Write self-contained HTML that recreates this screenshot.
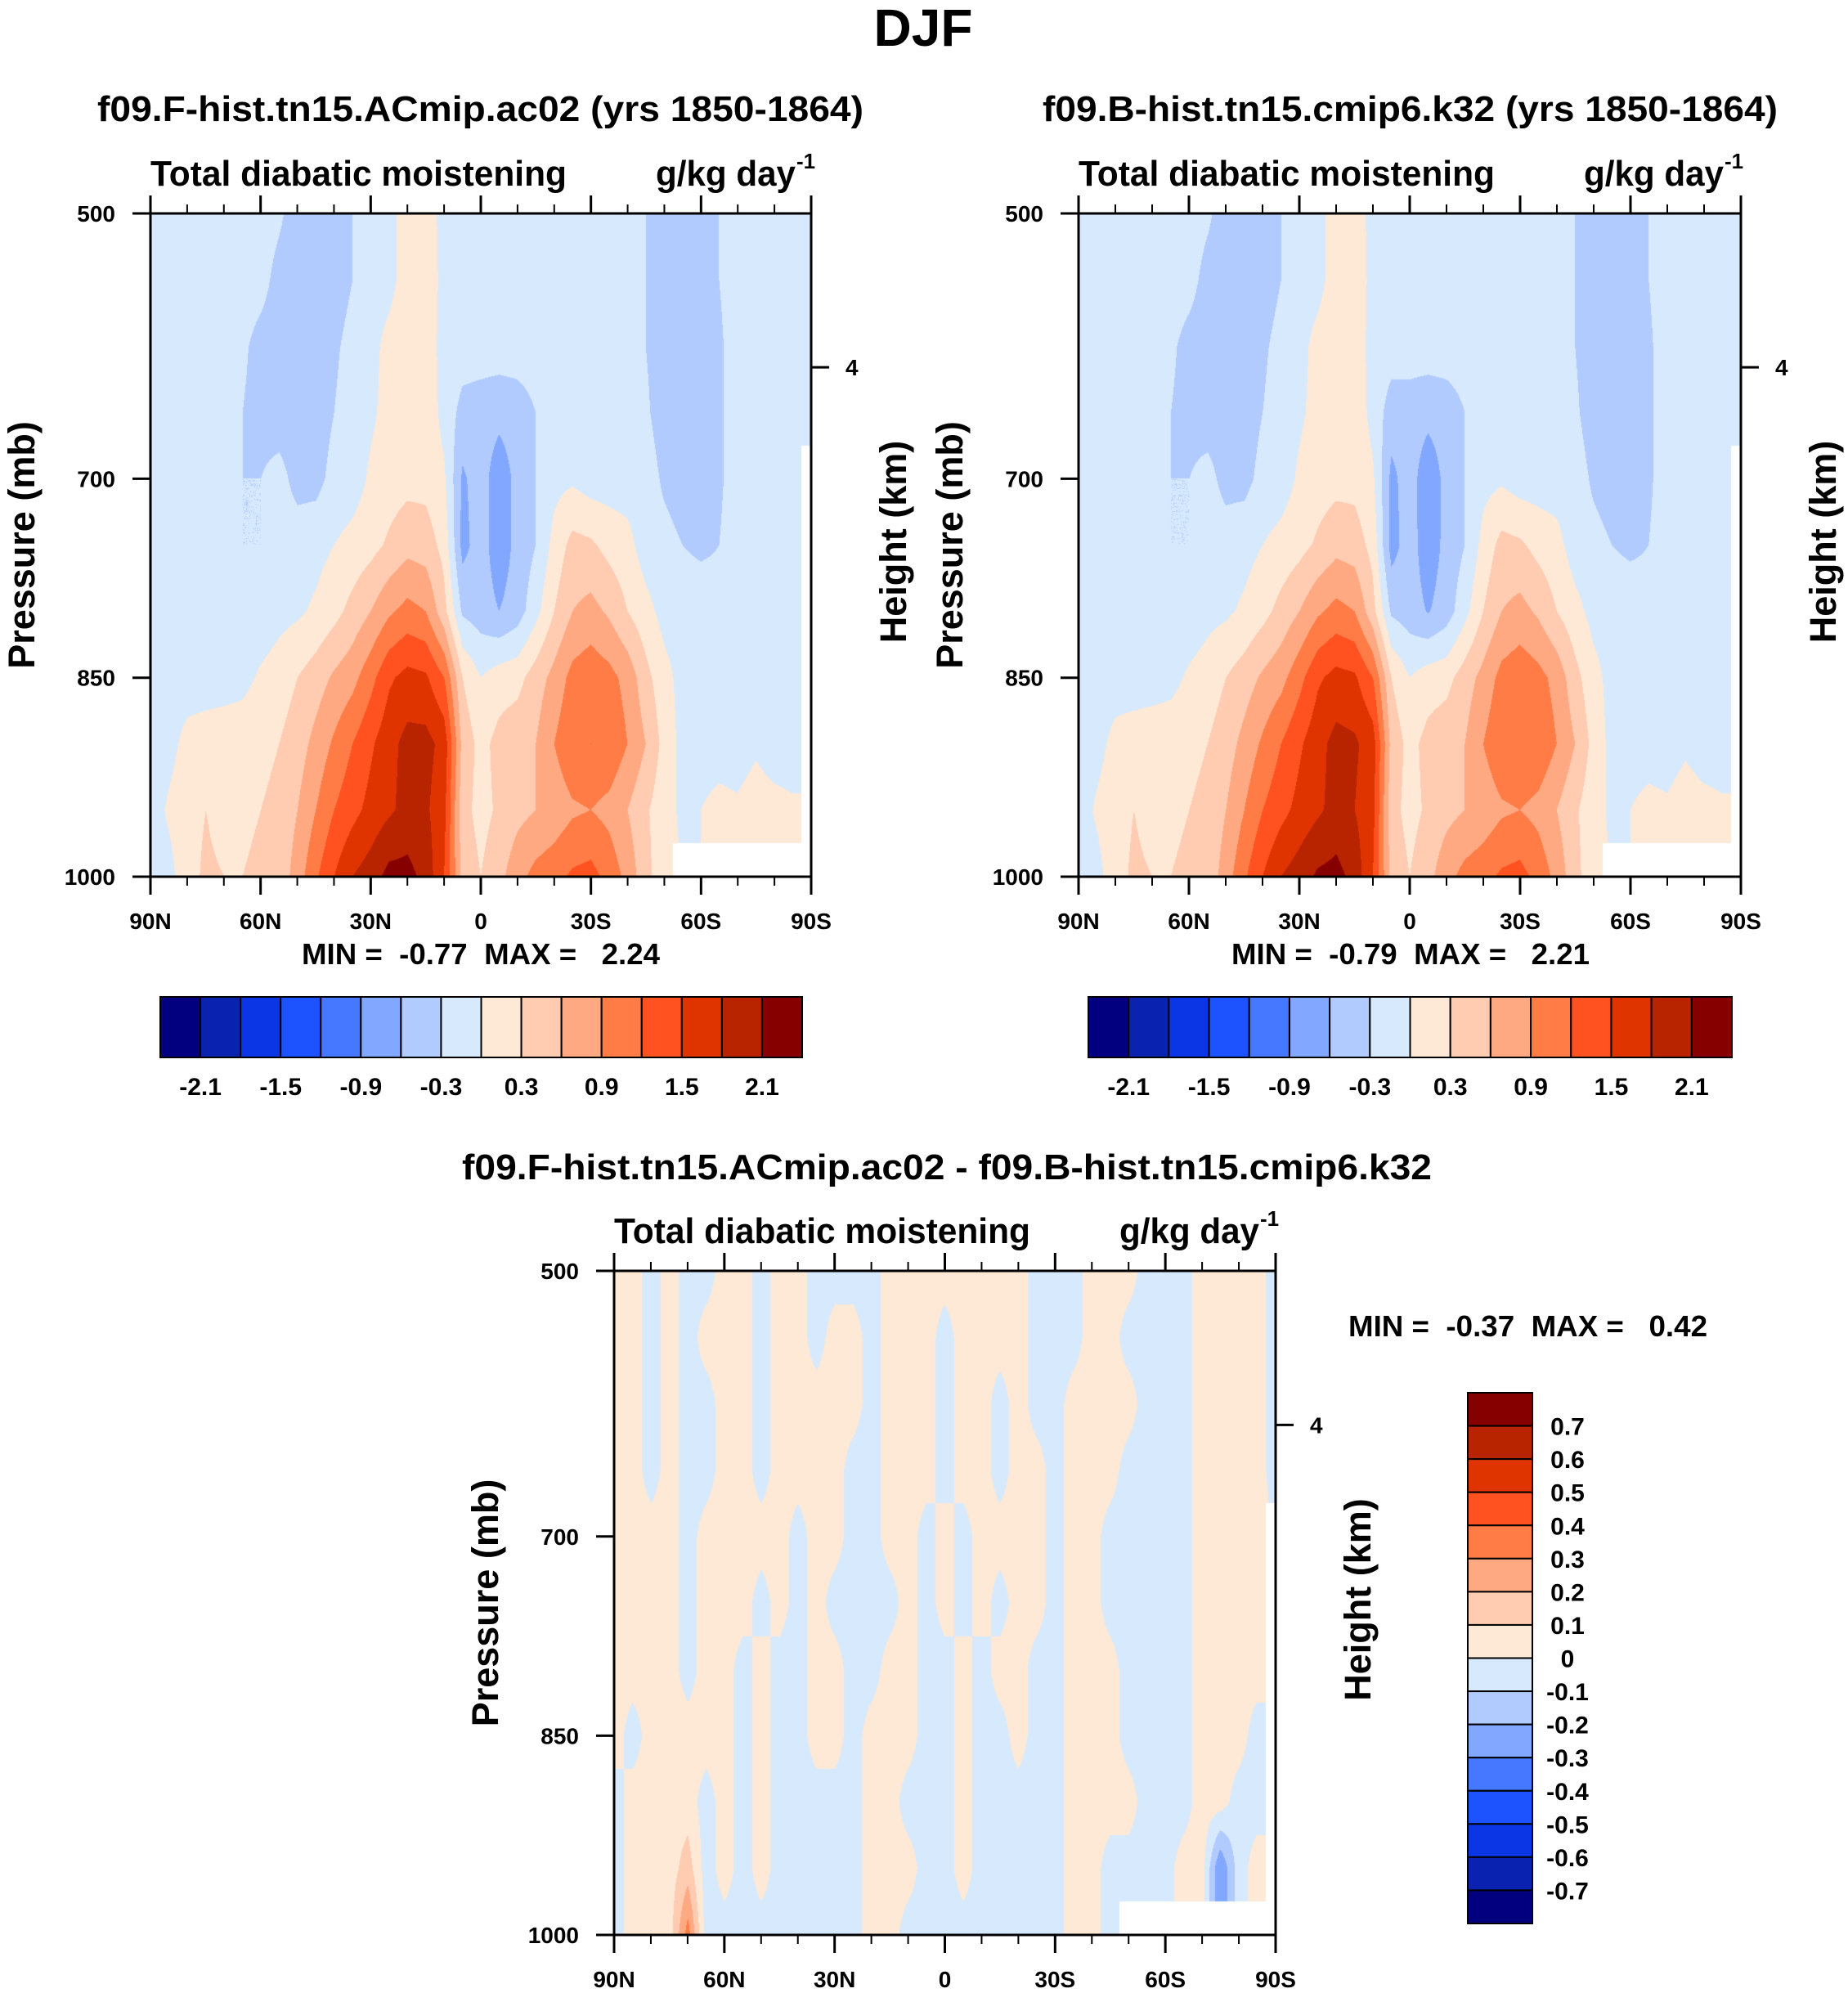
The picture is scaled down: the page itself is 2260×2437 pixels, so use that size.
<!DOCTYPE html>
<html><head><meta charset="utf-8"><style>
html,body{margin:0;padding:0;background:#fff;width:2260px;height:2437px;overflow:hidden}
canvas{position:absolute}
svg{position:absolute;left:0;top:0}
text{font-family:"Liberation Sans",Arial,sans-serif;font-weight:bold;fill:#000;white-space:pre}
</style></head><body>
<canvas id="c1" style="left:184px;top:261px" width="808" height="811"></canvas>
<canvas id="c2" style="left:1319px;top:261px" width="810" height="811"></canvas>
<canvas id="c3" style="left:751px;top:1554px" width="809" height="812"></canvas>
<svg id="ov" width="2260" height="2437">
<text x="1129" y="56" font-size="64" text-anchor="middle">DJF</text>
<text x="119" y="148" font-size="44" textLength="937" lengthAdjust="spacingAndGlyphs">f09.F-hist.tn15.ACmip.ac02 (yrs 1850-1864)</text>
<text x="1275" y="148" font-size="44" textLength="899" lengthAdjust="spacingAndGlyphs">f09.B-hist.tn15.cmip6.k32 (yrs 1850-1864)</text>
<text x="565" y="1442" font-size="44" textLength="1186" lengthAdjust="spacingAndGlyphs">f09.F-hist.tn15.ACmip.ac02 - f09.B-hist.tn15.cmip6.k32</text>
<text x="369" y="1179" font-size="36" textLength="438" lengthAdjust="spacingAndGlyphs" xml:space="preserve">MIN =  -0.77  MAX =   2.24</text>
<text x="1506" y="1179" font-size="36" textLength="438" lengthAdjust="spacingAndGlyphs" xml:space="preserve">MIN =  -0.79  MAX =   2.21</text>
<text x="1649" y="1634" font-size="36" textLength="439" lengthAdjust="spacingAndGlyphs" xml:space="preserve">MIN =  -0.37  MAX =   0.42</text>
</svg>
<script>
const lats = [90,85,80,75,70,65,60,55,50,45,40,35,30,25,20,15,10,5,0,-5,-10,-15,-20,-25,-30,-35,-40,-45,-50,-55,-60,-65,-70,-75,-80,-85,-90];
const pressures = [500,550,600,650,700,750,800,850,900,950,1000];
const xTickLats = [90,60,30,0,-30,-60,-90];
const xTickLabels = ['90N','60N','30N','0','30S','60S','90S'];
const xMinorLats = [80,70,50,40,20,10,-10,-20,-40,-50,-70,-80];
const pTicks = [500,700,850,1000];
const pTickLabels = ['500','700','850','1000'];
const heightTickP = [616];
const heightTickLabels = ['4'];
const levelsFull = [-2.1,-1.8,-1.5,-1.2,-0.9,-0.6,-0.3,0,0.3,0.6,0.9,1.2,1.5,1.8,2.1];
const levelsDiff = [-0.7,-0.6,-0.5,-0.4,-0.3,-0.2,-0.1,0,0.1,0.2,0.3,0.4,0.5,0.6,0.7];
const cbLabelsFull = ['-2.1','-1.5','-0.9','-0.3','0.3','0.9','1.5','2.1'];
const cbLabelsDiff = ['0.7','0.6','0.5','0.4','0.3','0.2','0.1','0','-0.1','-0.2','-0.3','-0.4','-0.5','-0.6','-0.7'];
const colors = ['#02007f','#0a22b0','#0a36e6','#1c52ff','#4578ff','#82a7ff','#b1cbfe','#d7e9fd','#fee9d6','#ffcbb1','#ffa983','#ff7c46','#ff5220','#e03400','#b82300','#870000'];
const N = NaN;
const p1 = [
[-.15,-.15,-.15,-.15,-.15,-.15,-.15,-.25,-.45,-.45,-.45,-.3,-.15,-.1,.15,.15,-.1,-.15,-.15,-.15,-.15,-.15,-.15,-.15,-.15,-.15,-.15,-.3,-.45,-.45,-.45,-.3,-.15,-.15,-.15,-.15,-.15],
[-.15,-.15,-.15,-.15,-.15,-.15,-.2,-.4,-.45,-.45,-.45,-.3,-.15,-.1,.15,.2,-.1,-.15,-.15,-.15,-.15,-.15,-.15,-.15,-.15,-.15,-.15,-.3,-.45,-.45,-.45,-.3,-.15,-.15,-.15,-.15,-.15],
[-.15,-.15,-.15,-.15,-.15,-.25,-.4,-.45,-.45,-.45,-.35,-.2,-.1,.1,.2,.15,-.1,-.15,-.15,-.15,-.15,-.15,-.15,-.15,-.15,-.15,-.15,-.3,-.45,-.45,-.45,-.35,-.15,-.15,-.15,-.15,-.15],
[-.15,-.15,-.15,-.15,-.15,-.3,-.4,-.45,-.45,-.45,-.3,-.15,-.05,.1,.2,.2,-.1,-.4,-.45,-.5,-.45,-.3,-.15,-.15,-.15,-.15,-.15,-.25,-.45,-.45,-.45,-.35,-.15,-.15,-.15,-.15,-.15],
[-.15,-.15,-.15,-.15,-.15,-.3,-.3,-.2,-.4,-.4,-.2,-.15,.05,.15,.2,.2,.05,-.65,-.45,-.8,-.5,-.3,-.1,-.05,-.15,-.15,-.15,-.15,-.35,-.45,-.45,-.35,-.15,-.15,-.15,-.15,N],
[-.15,-.15,-.15,-.15,-.15,-.3,-.3,-.15,-.15,-.1,0,.1,.2,.35,.5,.45,.2,-.7,-.45,-.8,-.5,-.3,.1,.4,.35,.2,.1,-.15,-.2,-.3,-.35,-.3,-.15,-.15,-.15,-.15,N],
[-.15,-.15,-.15,-.15,-.15,-.25,-.2,-.1,-.05,.05,.2,.4,.6,.85,1.0,.9,.4,-.35,-.45,-.6,-.45,-.1,.3,.6,.7,.55,.3,.1,-.1,-.15,-.15,-.2,-.15,-.15,-.15,-.15,N],
[-.15,-.15,-.15,-.15,-.15,-.1,.05,.15,.3,.45,.65,.8,1.1,1.45,1.6,1.55,1.2,.3,0,.15,.2,.45,.7,1.0,1.1,1.0,.8,.4,.1,-.1,-.15,-.15,-.15,-.15,-.15,-.15,N],
[-.15,-.1,.1,.15,.2,.2,.25,.3,.45,.7,.95,1.2,1.45,1.7,1.9,1.9,1.7,.5,.2,.4,.5,.6,.9,1.15,1.2,1.15,.9,.6,.2,-.1,-.15,-.15,-.15,-.05,-.15,-.15,N],
[-.15,.05,.2,.3,.2,.25,.3,.35,.6,.9,1.2,1.4,1.6,1.75,1.9,1.85,1.6,.4,.2,.35,.5,.6,.7,.85,.9,.8,.6,.35,.1,-.05,0,.1,.05,.15,.1,.05,N],
[-.15,-.1,.2,.35,.3,.3,.35,.4,.75,1.15,1.5,1.8,1.95,2.2,2.2,2.0,1.5,.5,.3,.5,.8,1.0,1.1,1.25,1.3,1.1,.8,.4,.1,N,N,N,N,N,N,N,N]
];
const p2 = [
[-.15,-.15,-.15,-.15,-.15,-.15,-.15,-.25,-.45,-.45,-.45,-.3,-.15,-.1,.15,.15,-.1,-.15,-.15,-.15,-.15,-.15,-.15,-.15,-.15,-.15,-.15,-.3,-.45,-.45,-.45,-.3,-.15,-.15,-.15,-.15,-.15],
[-.15,-.15,-.15,-.15,-.15,-.15,-.2,-.4,-.45,-.45,-.45,-.3,-.15,-.1,.15,.2,-.1,-.15,-.15,-.15,-.15,-.15,-.15,-.15,-.15,-.15,-.15,-.3,-.45,-.45,-.45,-.3,-.15,-.15,-.15,-.15,-.15],
[-.15,-.15,-.15,-.15,-.15,-.25,-.4,-.45,-.45,-.45,-.35,-.2,-.1,.1,.2,.15,-.1,-.15,-.15,-.15,-.15,-.15,-.15,-.15,-.15,-.15,-.15,-.3,-.45,-.45,-.45,-.35,-.15,-.15,-.15,-.15,-.15],
[-.15,-.15,-.15,-.15,-.15,-.3,-.4,-.45,-.45,-.45,-.3,-.15,-.05,.1,.2,.2,-.1,-.45,-.45,-.5,-.45,-.3,-.15,-.15,-.15,-.15,-.15,-.25,-.45,-.45,-.45,-.35,-.15,-.15,-.15,-.15,-.15],
[-.15,-.15,-.15,-.15,-.15,-.3,-.3,-.2,-.4,-.4,-.2,-.15,.05,.15,.2,.2,.05,-.68,-.45,-.82,-.5,-.3,-.1,-.05,-.15,-.15,-.15,-.15,-.35,-.45,-.45,-.35,-.15,-.15,-.15,-.15,N],
[-.15,-.15,-.15,-.15,-.15,-.3,-.3,-.15,-.15,-.1,0,.1,.2,.35,.5,.45,.2,-.72,-.45,-.8,-.5,-.3,.1,.4,.35,.2,.1,-.15,-.2,-.3,-.35,-.3,-.15,-.15,-.15,-.15,N],
[-.15,-.15,-.15,-.15,-.15,-.25,-.2,-.1,-.05,.05,.2,.4,.6,.85,1.0,.9,.4,-.35,-.45,-.62,-.45,-.1,.3,.6,.7,.55,.3,.1,-.1,-.15,-.15,-.2,-.15,-.15,-.15,-.15,N],
[-.15,-.15,-.15,-.15,-.15,-.1,.05,.15,.3,.45,.65,.8,1.1,1.45,1.6,1.55,1.2,.3,0,.15,.2,.45,.7,1.0,1.1,1.0,.8,.4,.1,-.1,-.15,-.15,-.15,-.15,-.15,-.15,N],
[-.15,-.1,.1,.15,.2,.2,.25,.3,.45,.7,.95,1.2,1.45,1.7,1.9,1.85,1.65,.5,.2,.4,.5,.6,.9,1.15,1.2,1.15,.9,.6,.2,-.1,-.15,-.15,-.15,-.05,-.15,-.15,N],
[-.15,.05,.2,.3,.2,.25,.3,.35,.6,.9,1.2,1.4,1.6,1.75,1.9,1.8,1.6,.4,.2,.35,.5,.6,.7,.85,.9,.8,.6,.35,.1,-.05,0,.1,.05,.15,.1,.05,N],
[-.15,-.1,.2,.35,.3,.3,.35,.4,.75,1.15,1.5,1.8,1.95,2.15,2.2,2.0,1.5,.5,.3,.5,.8,1.0,1.1,1.25,1.3,1.1,.8,.4,.1,N,N,N,N,N,N,N,N]
];
const o=.05, b=-.05;
const pd = [
[o,o,b,o,b,b,o,o,b,o, o,b,b,b,b,o,o,o,o,o, o,o,o,b,b,b,o,o,o,b, b,b,o,o,o,o,b],
[o,o,b,o,b,o,o,o,b,o, o,b,o,o,b,o,o,o,b,o, o,o,o,b,b,b,o,o,b,b, b,b,o,o,o,o,b],
[o,o,b,o,b,b,o,o,b,o, o,o,o,o,b,o,o,o,b,o, o,b,o,b,b,o,o,o,o,b, b,b,o,o,o,o,b],
[o,o,b,o,b,b,o,o,b,o, o,o,o,b,b,o,o,o,b,o, o,b,o,o,b,o,o,o,b,b, b,b,o,o,o,o,b],
[o,o,o,o,b,o,o,o,o,o, b,o,o,b,b,o,o,b,o,b, o,o,o,o,b,o,o,b,b,b, b,b,o,o,o,o,N],
[o,o,o,o,b,o,o,o,b,o, b,o,b,b,b,b,o,b,o,b, o,b,o,o,b,o,o,b,b,b, b,b,o,o,o,o,N],
[o,o,o,o,b,o,o,b,o,b, b,o,o,b,b,o,o,b,b,o, b,o,o,b,b,o,o,o,b,b, b,b,o,o,o,o,N],
[o,b,o,o,o,o,o,b,o,b, b,o,o,b,o,o,o,b,b,o, b,b,o,b,b,o,o,o,b,b, b,b,o,o,o,b,N],
[b,o,o,o,o,b,o,b,o,b, b,b,b,b,o,o,b,b,b,o, b,b,b,b,b,o,o,o,o,b, b,b,o,o,b,b,N],
[b,o,o,o,.15,b,o,b,o,b, b,b,b,b,o,o,o,b,b,o, b,b,b,b,b,o,o,b,b,b, b,o,o,-.3,b,o,N],
[b,o,o,o,.35,b,b,b,b,b, b,b,b,b,o,o,b,b,b,b, b,b,b,b,b,o,o,b,N,N, N,N,N,N,N,N,N]
];

function colorIndex(v, lv){let k=0;while(k<lv.length&&v>=lv[k])k++;return k;}
function hex(c){return [parseInt(c.slice(1,3),16),parseInt(c.slice(3,5),16),parseInt(c.slice(5,7),16)];}
const rgb = colors.map(hex);
function render(cv, grid, lv){
  const ctx=cv.getContext('2d');const W=cv.width,H=cv.height;
  const img=ctx.createImageData(W,H);const d=img.data;
  const nr=grid.length,nc=grid[0].length;
  for(let y=0;y<H;y++){
    const fy=y/(H-1)*(nr-1);const r0=Math.min(Math.floor(fy),nr-2);const ty=fy-r0;
    for(let x=0;x<W;x++){
      const fx=x/(W-1)*(nc-1);const c0=Math.min(Math.floor(fx),nc-2);const tx=fx-c0;
      const idx=(y*W+x)*4;
      const nv=grid[Math.round(fy)][Math.round(fx)];
      if(isNaN(nv)){d[idx]=255;d[idx+1]=255;d[idx+2]=255;d[idx+3]=255;continue;}
      const vs=[[grid[r0][c0],(1-tx)*(1-ty)],[grid[r0][c0+1],tx*(1-ty)],[grid[r0+1][c0],(1-tx)*ty],[grid[r0+1][c0+1],tx*ty]];
      let s=0,w=0;for(const [v,ww] of vs){if(!isNaN(v)){s+=v*ww;w+=ww;}}
      const val=w>0?s/w:nv;
      const c=rgb[colorIndex(val,lv)];
      d[idx]=c[0];d[idx+1]=c[1];d[idx+2]=c[2];d[idx+3]=255;
    }
  }
  ctx.putImageData(img,0,0);
}
render(document.getElementById('c1'),p1,levelsFull);
render(document.getElementById('c2'),p2,levelsFull);
render(document.getElementById('c3'),pd,levelsDiff);

const NS='http://www.w3.org/2000/svg';
const ov=document.getElementById('ov');
function el(tag,attrs,parent){const e=document.createElementNS(NS,tag);for(const k in attrs)e.setAttribute(k,attrs[k]);(parent||ov).appendChild(e);return e;}

function axes(x0,y0,w,h,pfx){
  const g=el('g',{});
  
  
  const xs=lat=>x0+(90-lat)/180*w;
  const ys=p=>y0+(p-500)/500*h;
  const fr=el('rect',{x:x0,y:y0,width:w,height:h,fill:'none',stroke:'#000','stroke-width':3},g);
  
  
  xTickLats.forEach((lat,i)=>{
    const X=xs(lat);
    el('line',{x1:X,y1:y0,x2:X,y2:y0-22,stroke:'#000','stroke-width':3},g);
    el('line',{x1:X,y1:y0+h,x2:X,y2:y0+h+22,stroke:'#000','stroke-width':3},g);
    const t=el('text',{x:X,y:y0+h+64,'font-size':28,'text-anchor':'middle'},g);
    t.textContent=xTickLabels[i];
    
    
  });
  xMinorLats.forEach(lat=>{
    const X=xs(lat);
    el('line',{x1:X,y1:y0,x2:X,y2:y0-11,stroke:'#000','stroke-width':2},g);
    el('line',{x1:X,y1:y0+h,x2:X,y2:y0+h+11,stroke:'#000','stroke-width':2},g);
  });
  pTicks.forEach((p,i)=>{
    const Y=ys(p);
    el('line',{x1:x0,y1:Y,x2:x0-22,y2:Y,stroke:'#000','stroke-width':3},g);
    const t=el('text',{x:x0-43,y:Y+10,'font-size':28,'text-anchor':'end'},g);
    t.textContent=pTickLabels[i];
    
    
  });
  heightTickP.forEach((p,i)=>{
    const Y=ys(p);
    el('line',{x1:x0+w,y1:Y,x2:x0+w+22,y2:Y,stroke:'#000','stroke-width':3},g);
    const t=el('text',{x:x0+w+42,y:Y+10,'font-size':28},g);
    t.textContent=heightTickLabels[i];
    
    
  });
  const st=el('text',{x:x0,y:y0-34,'font-size':44,textLength:509,lengthAdjust:'spacingAndGlyphs'},g);
  st.textContent='Total diabatic moistening';
  
  
  const un=el('text',{x:x0+618,y:y0-34,'font-size':44,textLength:171,lengthAdjust:'spacingAndGlyphs'},g);
  un.textContent='g/kg day';
  
  
  const sup=el('text',{x:x0+790,y:y0-55,'font-size':26},g);
  sup.textContent='-1';
  
  
  const py=y0+h*0.5;
  const pl=el('text',{x:0,y:0,'font-size':45,'text-anchor':'middle',transform:`translate(${x0-142},${py}) rotate(-90)`},g);
  pl.textContent='Pressure (mb)';
  
  
  const hl=el('text',{x:0,y:0,'font-size':45,'text-anchor':'middle',transform:`translate(${x0+w+116},${py-4}) rotate(-90)`},g);
  hl.textContent='Height (km)';
  
  
}
axes(184,261,808,811,'panel1');
axes(1319,261,810,811,'panel2');
axes(751,1554,809,812,'diff');

function hbar(x0,y0,w,h,pfx){
  const bw=w/colors.length;
  colors.forEach((c,i)=>{
    const r=el('rect',{x:x0+i*bw,y:y0,width:bw,height:h,fill:c,stroke:'#000','stroke-width':2});
    
    
  });
  cbLabelsFull.forEach((lab,i)=>{
    const t=el('text',{x:x0+(1+2*i)*bw,y:y0+h+46,'font-size':30,'text-anchor':'middle'});
    t.textContent=lab;
    
    
  });
}
hbar(196,1219,785,74,'panel1');
hbar(1331,1219,787,74,'panel2');

function vbar(x0,y0,w,h,pfx){
  const bh=h/colors.length;
  for(let i=0;i<colors.length;i++){
    const r=el('rect',{x:x0,y:y0+i*bh,width:w,height:bh,fill:colors[colors.length-1-i],stroke:'#000','stroke-width':2});
    
    
  }
  cbLabelsDiff.forEach((lab,i)=>{
    const t=el('text',{x:x0+122,y:y0+(i+1)*bh+11,'font-size':30,'text-anchor':'middle'});
    t.textContent=lab;
    
    
  });
}
vbar(1795,1703,79,649,'diff');
</script>
</body></html>
